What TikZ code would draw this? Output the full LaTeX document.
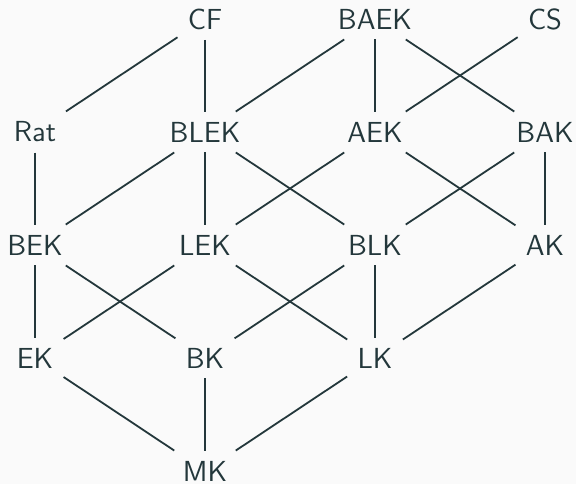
\documentclass[tikz,border=0pt]{standalone}
\usepackage{fontspec}
\definecolor{ink}{HTML}{23373B}
\definecolor{paper}{HTML}{FAFAFA}
\begin{document}
\begin{tikzpicture}[x=0.5pt,y=-0.5pt,
  lattice/.style={text=ink,inner sep=5pt,font=\sffamily\fontsize{14.5}{17}\selectfont},
  link/.style={draw=ink,line width=0.9pt}]
  \fill[paper] (0,0) rectangle (576,484);
  \useasboundingbox (0,0) rectangle (576,484);
  % top row
  \node[lattice] (CF)   at (205,19) {CF};
  \node[lattice] (BAEK) at (375,19) {BAEK};
  \node[lattice] (CS)   at (545,19) {CS};
  % second row
  \node[lattice] (Rat)  at (35,132) {Rat};
  \node[lattice] (BLEK) at (205,132) {BLEK};
  \node[lattice] (AEK)  at (375,132) {AEK};
  \node[lattice] (BAK)  at (545,132) {BAK};
  % third row
  \node[lattice] (BEK)  at (35,245) {BEK};
  \node[lattice] (LEK)  at (205,245) {LEK};
  \node[lattice] (BLK)  at (375,245) {BLK};
  \node[lattice] (AK)   at (545,245) {AK};
  % fourth row
  \node[lattice] (EK)   at (35,358) {EK};
  \node[lattice] (BK)   at (205,358) {BK};
  \node[lattice] (LK)   at (375,358) {LK};
  % bottom
  \node[lattice] (MK)   at (205,471) {MK};
  % covering relations
  \foreach \a/\b in {CF/Rat,CF/BLEK,BAEK/BLEK,BAEK/AEK,BAEK/BAK,CS/AEK,
                     Rat/BEK,BLEK/BEK,BLEK/LEK,BLEK/BLK,AEK/LEK,AEK/AK,BAK/BLK,BAK/AK,
                     BEK/EK,BEK/BK,LEK/EK,LEK/LK,BLK/BK,BLK/LK,AK/LK,
                     EK/MK,BK/MK,LK/MK}
    \draw[link] (\a) -- (\b);
\end{tikzpicture}
\end{document}
